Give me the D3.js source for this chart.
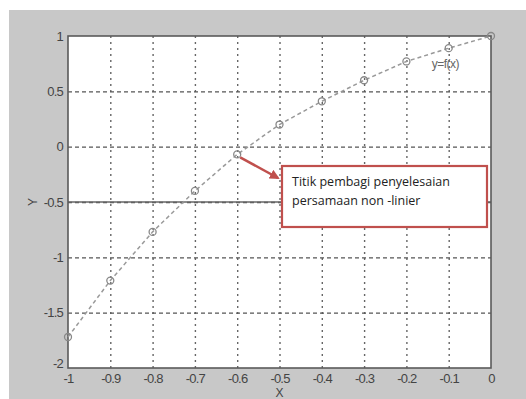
<!DOCTYPE html>
<html>
<head>
<meta charset="utf-8">
<script src="https://cdn.jsdelivr.net/npm/d3@7"></script>
<style>
  body { margin: 0; background: #fff; }
  svg { display: block; }
</style>
</head>
<body>
<div id="chart"></div>
<script>
'use strict'

// data
const xValues = [-1, -0.9, -0.8, -0.7, -0.6, -0.5, -0.4, -0.3, -0.2, -0.1, 0]
const yValues = [-1.72, -1.21, -0.77, -0.40, -0.07, 0.20, 0.41, 0.60, 0.77, 0.89, 1.0]
const xTicks = [-1, -0.9, -0.8, -0.7, -0.6, -0.5, -0.4, -0.3, -0.2, -0.1, 0]
const yTicks = [-2, -1.5, -1, -0.5, 0, 0.5, 1]
const refLine = -0.5
const markedIndex = 4
const noteLines = ['Titik pembagi penyelesaian', 'persamaan non -linier']
const curveLabel = 'y=f(x)'

const width = 526
const height = 399
const margin = {left: 68, top: 36, right: 35, bottom: 31}
const tickColor = '#444'
const tickFont = 'Liberation Sans, Arial, sans-serif'

const svg = d3.select('#chart')
  .append('svg')
    .attr('width', width)
    .attr('height', height)

svg.append('rect')
  .attr('x', 9).attr('y', 10)
  .attr('width', width - 9).attr('height', height - 10)
  .attr('fill', '#c8c8c8')

const xScale = d3.scaleLinear()
  .domain([-1, 0])
  .range([margin.left, width - margin.right])

const yScale = d3.scaleLinear()
  .domain([-2, 1])
  .range([height - margin.bottom, margin.top])

const plotW = xScale(0) - xScale(-1)
const plotH = yScale(-2) - yScale(1)

svg.append('rect')
  .attr('x', xScale(-1)).attr('y', yScale(1))
  .attr('width', plotW).attr('height', plotH)
  .attr('fill', '#fff')

// grid
svg.append('g')
    .attr('transform', `translate(0,${yScale(-2)})`)
    .call(d3.axisBottom(xScale).tickValues(xTicks.slice(1, -1)).tickSize(-plotH).tickFormat(''))
    .call(g => g.select('.domain').remove())
    .call(g => g.selectAll('line')
      .attr('stroke', '#666').attr('stroke-width', 1.4).attr('stroke-dasharray', '2,4'))

svg.append('g')
    .attr('transform', `translate(${xScale(-1)},0)`)
    .call(d3.axisLeft(yScale).tickValues(yTicks.slice(1, -1)).tickSize(-plotW).tickFormat(''))
    .call(g => g.select('.domain').remove())
    .call(g => g.selectAll('line')
      .attr('stroke', '#555').attr('stroke-width', 1.3).attr('stroke-dasharray', '4,3'))

// solid reference line
svg.append('line')
  .attr('x1', xScale(-1)).attr('x2', xScale(0))
  .attr('y1', yScale(refLine)).attr('y2', yScale(refLine))
  .attr('stroke', '#666').attr('stroke-width', 1.3)

// tick labels (plain hyphen minus, like the original)
const xAxis = svg.append('g')
    .attr('transform', `translate(0,${yScale(-2)})`)
    .call(d3.axisBottom(xScale).tickValues(xTicks).tickSize(0).tickPadding(6)
      .tickFormat(d => String(d)))
xAxis.select('.domain').remove()
xAxis.selectAll('text')
  .attr('fill', tickColor)
  .attr('font-family', tickFont)
  .attr('font-size', 13)
  .attr('letter-spacing', -0.8)

const yAxis = svg.append('g')
    .attr('transform', `translate(${xScale(-1)},0)`)
    .call(d3.axisLeft(yScale).tickValues(yTicks).tickSize(0).tickPadding(5)
      .tickFormat(d => String(d)))
yAxis.select('.domain').remove()
yAxis.selectAll('text')
  .attr('fill', tickColor)
  .attr('font-family', tickFont)
  .attr('font-size', 13)
  .attr('letter-spacing', -0.8)
  .attr('dy', d => d === -2 ? '-0.05em' : '0.32em')

// axis titles
svg.append('text')
  .attr('x', (xScale(-1) + xScale(0)) / 2)
  .attr('y', 397)
  .attr('text-anchor', 'middle')
  .attr('fill', tickColor)
  .attr('font-family', tickFont)
  .attr('font-size', 12)
  .text('X')

svg.append('text')
  .attr('transform', `translate(37,${yScale(refLine)}) rotate(-90)`)
  .attr('text-anchor', 'middle')
  .attr('fill', tickColor)
  .attr('font-family', tickFont)
  .attr('font-size', 12)
  .text('Y')

// plot frame
svg.append('rect')
  .attr('x', xScale(-1)).attr('y', yScale(1))
  .attr('width', plotW).attr('height', plotH)
  .attr('fill', 'none')
  .attr('stroke', '#5a5a5a').attr('stroke-width', 1.6)

// curve
const points = xValues.map((x, i) => ({x, y: yValues[i]}))
const line = d3.line()
  .x(d => xScale(d.x))
  .y(d => yScale(d.y))

svg.append('path')
  .datum(points)
  .attr('d', line)
  .attr('fill', 'none')
  .attr('stroke', '#999')
  .attr('stroke-width', 1.5)
  .attr('stroke-dasharray', '4,3')

svg.append('g')
  .selectAll('circle')
  .data(points)
  .join('circle')
    .attr('cx', d => xScale(d.x))
    .attr('cy', d => yScale(d.y))
    .attr('r', 3.5)
    .attr('fill', 'none')
    .attr('stroke', '#888')
    .attr('stroke-width', 1.3)

svg.append('text')
  .attr('x', xScale(-0.14))
  .attr('y', yScale(0.71))
  .attr('fill', '#666')
  .attr('font-family', tickFont)
  .attr('font-size', 12)
  .attr('letter-spacing', -0.5)
  .text(curveLabel)

// callout box and arrow
const red = '#c0504d'
svg.append('defs').append('marker')
  .attr('id', 'head')
  .attr('viewBox', '0 0 10 10')
  .attr('refX', 8).attr('refY', 5)
  .attr('markerWidth', 4).attr('markerHeight', 4)
  .attr('orient', 'auto')
  .append('path')
    .attr('d', 'M0,0L10,5L0,10z')
    .attr('fill', red)

const mark = points[markedIndex]
svg.append('line')
  .attr('x1', xScale(mark.x) + 3).attr('y1', yScale(mark.y) + 3)
  .attr('x2', 278).attr('y2', 178)
  .attr('stroke', red).attr('stroke-width', 2.5)
  .attr('marker-end', 'url(#head)')

svg.append('rect')
  .attr('x', 282).attr('y', 166)
  .attr('width', 205).attr('height', 61)
  .attr('fill', '#fff')
  .attr('stroke', red).attr('stroke-width', 2.2)

svg.append('g')
  .selectAll('text')
  .data(noteLines)
  .join('text')
    .attr('x', 292)
    .attr('y', (d, i) => 186 + i * 19)
    .attr('fill', '#222')
    .attr('font-family', 'Open Sans, sans-serif')
    .attr('font-size', 12.5)
    .text(d => d)
</script>
</body>
</html>
